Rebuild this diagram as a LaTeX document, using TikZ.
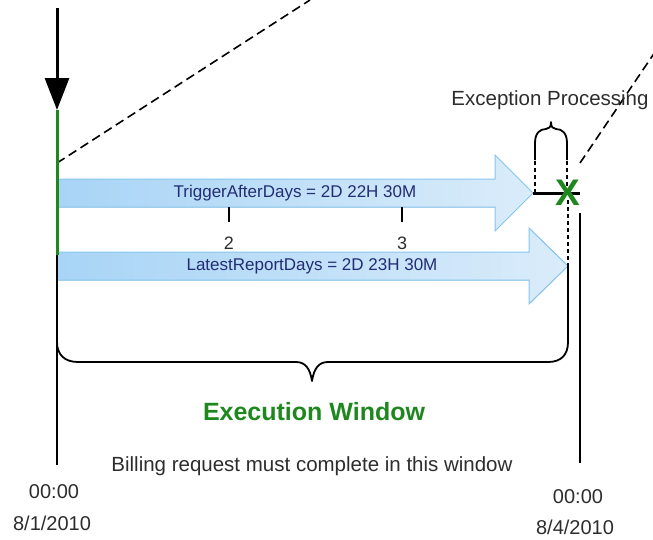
\documentclass[tikz,border=0pt]{standalone}
\usepackage{fontspec}
\setmainfont{Liberation Sans}
\usepackage{xcolor}
\usetikzlibrary{arrows.meta,positioning,calc}
\definecolor{winGreen}{RGB}{30,135,30}
\definecolor{barLine}{RGB}{135,198,238}
\definecolor{barDark}{RGB}{168,212,246}
\definecolor{barLight}{RGB}{218,236,250}
\definecolor{barText}{RGB}{35,45,115}
\definecolor{txtGray}{RGB}{45,45,45}

\begin{document}
\begin{tikzpicture}[
x=1pt,y=-1pt,
timeline/.style={line width=2pt,black},
guide/.style={line width=1.6pt,dash pattern=on 9pt off 5pt},
fineguide/.style={line width=1.1pt,dash pattern=on 4pt off 3pt},
timebar/.style={draw=barLine,line width=1pt,left color=barDark,right color=barLight},
bartext/.style={text=barText,font=\fontsize{17}{19}\selectfont},
datetext/.style={text=txtGray,font=\fontsize{20}{22}\selectfont},
brace/.style={line width=1.8pt,line join=round}
]
\useasboundingbox (0,0) rectangle (653,539);
\coordinate (t0top) at (57,8);
\coordinate (t0win) at (57,110);
\coordinate (t0end) at (57,255);
\coordinate (t0foot) at (57,465);
\coordinate (t0dash) at (57,163);
\coordinate (trigtip) at (533,193);
\coordinate (latetip) at (568,266);
\coordinate (t3top) at (580,213);
\coordinate (t3foot) at (580,463);

\draw[guide] (t0dash) -- (310,0);
\draw[guide] (580,163) -- (655,52);

\filldraw[timebar] (57,179) -- (495,179) -- (495,155) -- (trigtip) -- (495,231) -- (495,207) -- (57,207) -- cycle;
\filldraw[timebar] (57,252) -- (529,252) -- (529,228) -- (latetip) -- (529,304) -- (529,280) -- (57,280) -- cycle;
\node[bartext] (trig) at (295,193) {TriggerAfterDays = 2D 22H 30M};
\node[bartext] (late) at (312,266) {LatestReportDays = 2D 23H 30M};

\draw[black,line width=3pt,-{Triangle[length=32pt,width=24pt]}] (t0top) -- (t0win);
\draw[winGreen,line width=3pt] (t0win) -- (t0end);
\draw[timeline] (t0end) -- (t0foot);
\draw[timeline] (t3top) -- (t3foot);

\draw[line width=1.3pt] (229,207) -- (229,222);
\draw[line width=1.3pt] (402,207) -- (402,222);
\node[datetext,font=\fontsize{18}{20}\selectfont] (day2) at (229,243) {2};
\node[datetext,font=\fontsize{18}{20}\selectfont] (day3) at (402,243) {3};

\draw[fineguide] (535,193) -- (535,160);
\draw[fineguide] (567,193) -- (567,160);
\draw[fineguide] (568,200) -- (latetip);
\draw[brace] (535,160) -- (535,143) .. controls (535,133) and (540,129) .. (546,129)
  .. controls (549,129) and (551,127) .. (551,122)
  .. controls (551,127) and (553,129) .. (556,129)
  .. controls (562,129) and (567,133) .. (567,143) -- (567,160);
\node[datetext,font=\fontsize{20.5}{22}\selectfont] (excp) at (550,100) {Exception Processing};

\draw[line width=3pt] (trigtip) -- (580,193);
\node[text=winGreen,font=\bfseries\fontsize{37}{37}\selectfont,inner sep=0pt] (fail) at (568,193) {X};

\draw[brace] (57,320) -- (57,342) .. controls (57,355) and (65,362) .. (78,362)
  -- (296,362) .. controls (305,362) and (310,368) .. (312,381)
  .. controls (314,368) and (319,362) .. (328,362)
  -- (548,362) .. controls (561,362) and (568,355) .. (568,342) -- (latetip);

\node[text=winGreen,font=\bfseries\fontsize{25}{28}\selectfont] (window) at (314,412) {Execution Window};
\node[datetext,font=\fontsize{20.5}{22}\selectfont] (billing) at (312,466) {Billing request must complete in this window};
\node[datetext] (t0time) at (54,492) {00:00};
\node[datetext] (t0date) at (52,523) {8/1/2010};
\node[datetext] (t3time) at (578,497) {00:00};
\node[datetext] (t3date) at (575,527) {8/4/2010};
\end{tikzpicture}
\end{document}
